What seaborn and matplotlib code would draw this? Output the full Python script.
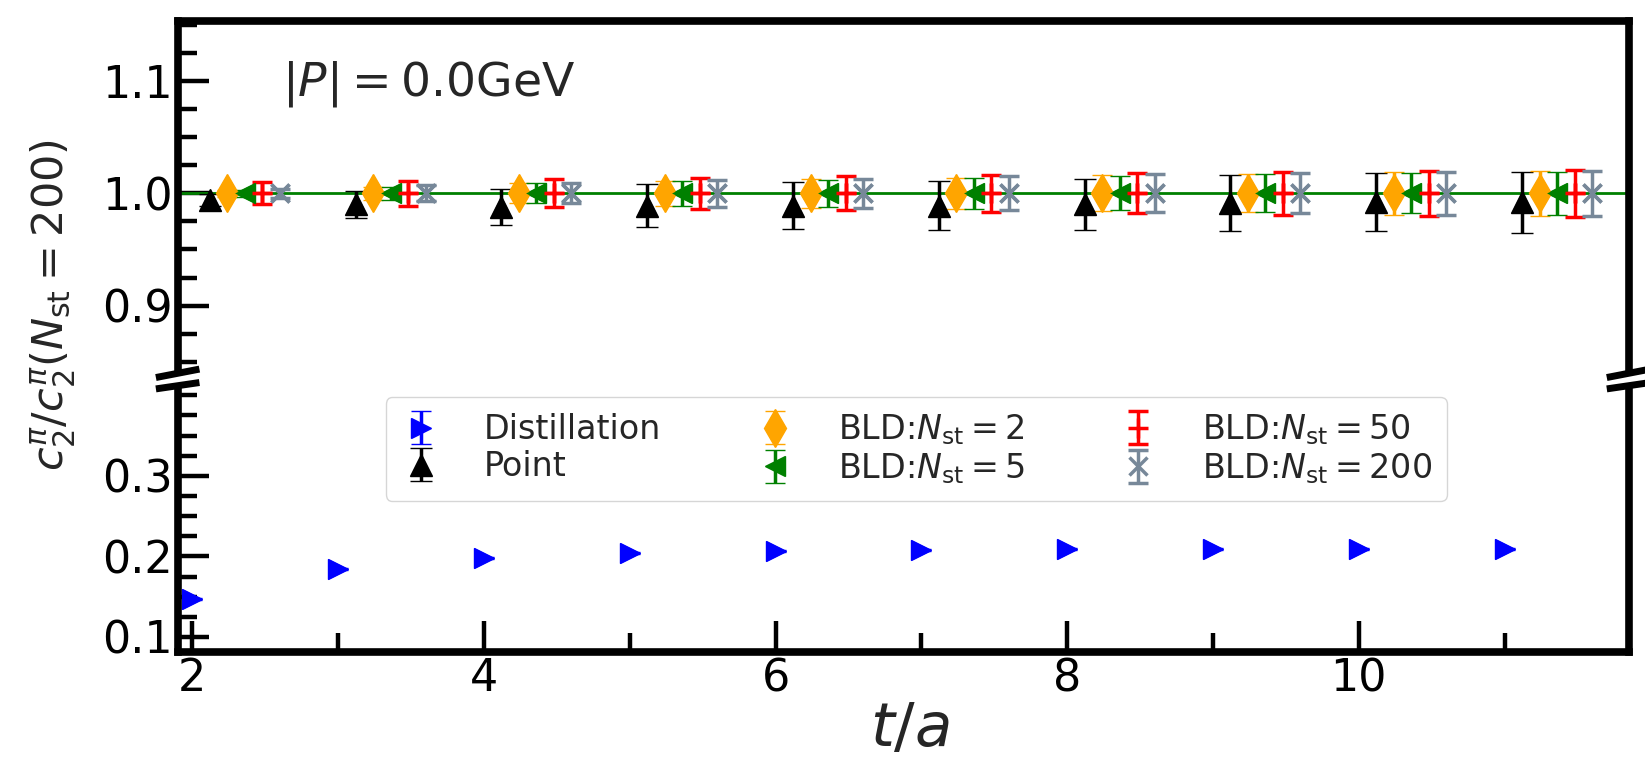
import numpy as np
import pandas as pd
import matplotlib
matplotlib.use("Agg")
import matplotlib.pyplot as plt
from matplotlib.ticker import MultipleLocator, FormatStrFormatter
import seaborn as sns

# ---- data ----
t_vals = [2, 3, 4, 5, 6, 7, 8, 9, 10, 11]

dist_y = [0.147, 0.184, 0.198, 0.204, 0.207, 0.208, 0.209, 0.209, 0.209, 0.209]
dist_err = [0.001, 0.001, 0.001, 0.001, 0.001, 0.001, 0.001, 0.001, 0.001, 0.001]

point_y = [0.994, 0.990, 0.988, 0.989, 0.989, 0.989, 0.990, 0.991, 0.992, 0.992]
point_err = [0.005, 0.012, 0.016, 0.019, 0.021, 0.022, 0.023, 0.025, 0.026, 0.027]

bld2_y = [1.0, 1.0, 1.0, 1.0, 1.0, 1.0, 1.0, 1.0, 1.0, 1.0]
bld2_err = [0.003, 0.006, 0.009, 0.011, 0.013, 0.014, 0.016, 0.017, 0.019, 0.020]

bld5_y = [1.0, 1.0, 1.0, 1.0, 1.0, 1.0, 1.0, 1.0, 1.0, 1.0]
bld5_err = [0.003, 0.006, 0.009, 0.011, 0.012, 0.014, 0.015, 0.017, 0.018, 0.019]

bld50_y = [1.0, 1.0, 1.0, 1.0, 1.0, 1.0, 1.0, 1.0, 1.0, 1.0]
bld50_err = [0.010, 0.011, 0.0125, 0.014, 0.015, 0.0165, 0.018, 0.019, 0.020, 0.021]

bld200_y = [1.0, 1.0, 1.0, 1.0, 1.0, 1.0, 1.0, 1.0, 1.0, 1.0]
bld200_err = [0.004, 0.007, 0.009, 0.012, 0.013, 0.015, 0.017, 0.018, 0.019, 0.020]

labels = ["Distillation", "Point",
          r"BLD:$N_{\rm st}=2$", r"BLD:$N_{\rm st}=5$",
          r"BLD:$N_{\rm st}=50$", r"BLD:$N_{\rm st}=200$"]

# ---- styling ----
sns.set_theme(style="white")
plt.rcParams["font.family"] = ["DejaVu Sans"]
plt.rcParams["mathtext.fontset"] = "dejavusans"

series = [
    # y, err, x-shift, color, marker, size, capsize, label
    (dist_y, dist_err, 0.00, "blue", ">", 15, 7, labels[0]),
    (point_y, point_err, 0.12, "black", "^", 16, 8, labels[1]),
    (bld2_y, bld2_err, 0.24, "orange", "d", 19, 7, labels[2]),
    (bld5_y, bld5_err, 0.36, "green", "<", 15, 7, labels[3]),
    (bld50_y, bld50_err, 0.48, "red", "+", 15, 7, labels[4]),
    (bld200_y, bld200_err, 0.60, "lightslategray", "x", 13, 7, labels[5]),
]

rows = []
for y, e, dx, c, m, s, cs, lab in series:
    for t, yy, ee in zip(t_vals, y, e):
        rows.append(dict(t=t + dx, y=yy, err=ee, label=lab))
df = pd.DataFrame(rows)

fig = plt.figure(figsize=(16.45, 7.7), dpi=100)
ax_top = fig.add_axes([0.108, 0.517, 0.882, 0.456])
ax_bot = fig.add_axes([0.108, 0.153, 0.882, 0.344])

ax_top.axhline(1.0, color="green", lw=2, zorder=1)

handles = []
for y, e, dx, c, m, s, cs, lab in series:
    sub = df[df["label"] == lab]
    thin = m in ("+", "x")
    for ax in (ax_top, ax_bot):
        sns.scatterplot(data=sub, x="t", y="y", ax=ax, marker=m, s=s**2,
                        color=c, edgecolor=c if not thin else None,
                        linewidth=2.5 if thin else 0,
                        legend=False, zorder=3)
        h = ax.errorbar(sub["t"], sub["y"], yerr=sub["err"], fmt=m, ms=s,
                        color=c, mew=2.5 if thin else 1,
                        elinewidth=2.5, capsize=cs, capthick=2.5, zorder=2)
    handles.append(h)

# axes, spines and ticks
for ax in (ax_top, ax_bot):
    ax.set_xlim(1.9, 11.85)
    for sp in ax.spines.values():
        sp.set_linewidth(5.5)
        sp.set_color("black")
    ax.tick_params(which="both", direction="in", left=True, bottom=True,
                   right=False, top=False, labelsize=32, width=3.2,
                   colors="black")
    ax.tick_params(which="major", length=22)
    ax.tick_params(which="minor", length=14)
    ax.yaxis.set_minor_locator(MultipleLocator(0.025))
    ax.yaxis.set_major_formatter(FormatStrFormatter("%.1f"))
    ax.set_xlabel("")
    ax.set_ylabel("")

ax_top.set_ylim(0.841, 1.1535)
ax_bot.set_ylim(0.081, 0.41)
ax_top.set_yticks([0.9, 1.0, 1.1])
ax_bot.set_yticks([0.1, 0.2, 0.3])

ax_bot.set_xticks([2, 4, 6, 8, 10])
ax_bot.xaxis.set_minor_locator(MultipleLocator(1))
ax_top.tick_params(axis="x", which="both", bottom=False, labelbottom=False)

ax_top.spines["bottom"].set_visible(False)
ax_bot.spines["top"].set_visible(False)

# break marks on both sides of the split
kw = dict(color="black", lw=5, clip_on=False, solid_capstyle="butt")
bx, by = 0.015, 0.012
for xc in (0, 1):
    ax_top.plot([xc - bx, xc + bx], [-by - 0.004, by - 0.004],
                transform=ax_top.transAxes, **kw)
    ax_bot.plot([xc - bx, xc + bx], [1 - by + 0.006, 1 + by + 0.006],
                transform=ax_bot.transAxes, **kw)

ax_top.text(0.072, 0.82, r"$|P|=0.0$GeV", transform=ax_top.transAxes,
            fontsize=34, va="center", ha="left")

fig.text(0.033, 0.604, r"$c_2^\pi/c_2^\pi(N_{\rm st}=200)$", rotation=90,
         fontsize=31, va="center", ha="center")
fig.text(0.553, 0.053, r"$t/a$", fontsize=44, va="center", ha="center")

leg = ax_bot.legend(handles, labels, ncol=3, loc="upper center",
                    bbox_to_anchor=(0.509, 0.962), borderaxespad=0,
                    fontsize=24, frameon=True, fancybox=True,
                    framealpha=0.8, edgecolor="#cccccc", handlelength=1.2,
                    handletextpad=1.3, columnspacing=2.8, borderpad=0.45,
                    labelspacing=0.12)

fig.savefig("out.png", dpi=100)
